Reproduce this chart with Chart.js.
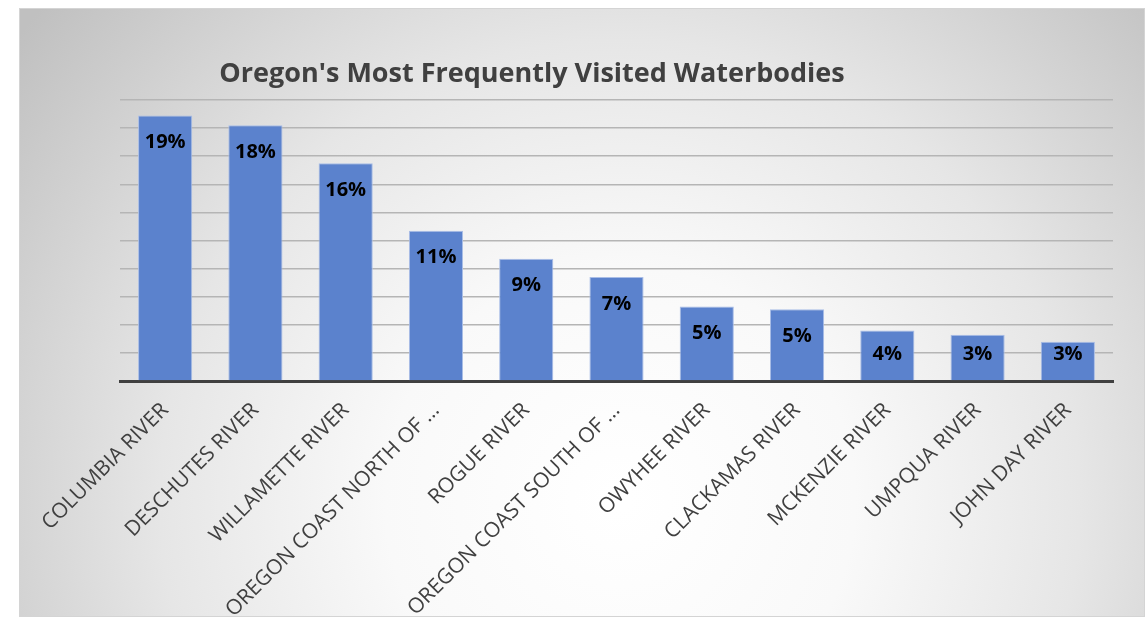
<!DOCTYPE html>
<html>
<head>
<meta charset="utf-8">
<script src="https://cdn.jsdelivr.net/npm/chart.js@4.4.0/dist/chart.umd.min.js"></script>
<style>
  html, body { margin: 0; padding: 0; background: #ffffff; }
  #wrap { width: 1147px; height: 619px; position: relative; }
</style>
</head>
<body>
<div id="wrap"><canvas id="waterChart" width="1147" height="619"></canvas></div>
<script>
// Chart data
const chartTitle = "Oregon's Most Frequently Visited Waterbodies";
const waterbodies = [
  'COLUMBIA RIVER',
  'DESCHUTES RIVER',
  'WILLAMETTE RIVER',
  'OREGON COAST NORTH OF …',
  'ROGUE RIVER',
  'OREGON COAST SOUTH OF …',
  'OWYHEE RIVER',
  'CLACKAMAS RIVER',
  'MCKENZIE RIVER',
  'UMPQUA RIVER',
  'JOHN DAY RIVER',
];
const visitShare = [18.9, 18.2, 15.5, 10.7, 8.7, 7.4, 5.3, 5.1, 3.6, 3.3, 2.8];
const yMax = 20;
const yStep = 2;

const FONT = "'Open Sans', 'Liberation Sans', sans-serif";

// Gray gradient panel behind the chart
const panelBackground = {
  id: 'panelBackground',
  beforeDraw(chart) {
    const ctx = chart.ctx;
    const w = chart.width, h = chart.height;
    ctx.save();
    ctx.fillStyle = '#ffffff';
    ctx.fillRect(0, 0, w, h);
    const g = ctx.createRadialGradient(620, 500, 10, 620, 500, 760);
    g.addColorStop(0, '#ffffff');
    g.addColorStop(0.3, '#f9f9f9');
    g.addColorStop(0.6, '#e6e6e6');
    g.addColorStop(1, '#c0c0c0');
    ctx.fillStyle = g;
    ctx.fillRect(19, 8, 1126, 609);
    ctx.strokeStyle = '#d4d4d4';
    ctx.lineWidth = 1;
    ctx.strokeRect(19.5, 8.5, 1125, 608);
    ctx.restore();
  }
};

// Title drawn left of centre like the original
const offsetTitle = {
  id: 'offsetTitle',
  afterDraw(chart) {
    const ctx = chart.ctx;
    ctx.save();
    ctx.font = 'bold 27px ' + FONT;
    ctx.fillStyle = '#404040';
    ctx.textAlign = 'center';
    ctx.textBaseline = 'middle';
    ctx.fillText(chartTitle, 532, 74);
    ctx.restore();
  }
};

// Percent labels inside the top of each bar
const barLabels = {
  id: 'barLabels',
  afterDatasetsDraw(chart) {
    const ctx = chart.ctx;
    const meta = chart.getDatasetMeta(0);
    ctx.save();
    ctx.font = 'bold 20px ' + FONT;
    ctx.fillStyle = '#000000';
    ctx.textAlign = 'center';
    ctx.textBaseline = 'middle';
    meta.data.forEach((bar, i) => {
      const y = Math.min(bar.y + 27, bar.base - 26);
      ctx.fillText(Math.round(visitShare[i]) + '%', bar.x, y);
    });
    ctx.restore();
  }
};

new Chart(document.getElementById('waterChart'), {
  type: 'bar',
  data: {
    labels: waterbodies,
    datasets: [{
      data: visitShare,
      backgroundColor: '#5b82cd',
      borderColor: '#a9bde6',
      borderWidth: 1,
      categoryPercentage: 1.0,
      barPercentage: 0.6,
    }],
  },
  options: {
    responsive: false,
    animation: false,
    layout: {
      padding: { left: 120, right: 34, top: 100, bottom: 0 },
    },
    plugins: {
      legend: { display: false },
      title: { display: false },
      tooltip: { enabled: false },
    },
    scales: {
      x: {
        grid: { display: false },
        border: { display: true, color: '#404040', width: 3 },
        ticks: {
          color: '#404040',
          font: { family: FONT, size: 21 },
          minRotation: 45,
          maxRotation: 45,
          padding: 9,
        },
        afterFit(scale) { scale.height = 238; },
      },
      y: {
        min: 0,
        max: yMax,
        ticks: { display: false, stepSize: yStep },
        grid: { color: '#b5b5b5', lineWidth: 1.5, drawTicks: false },
        border: { display: false },
        afterFit(scale) { scale.width = 0; },
      },
    },
  },
  plugins: [panelBackground, offsetTitle, barLabels],
});
</script>
</body>
</html>
